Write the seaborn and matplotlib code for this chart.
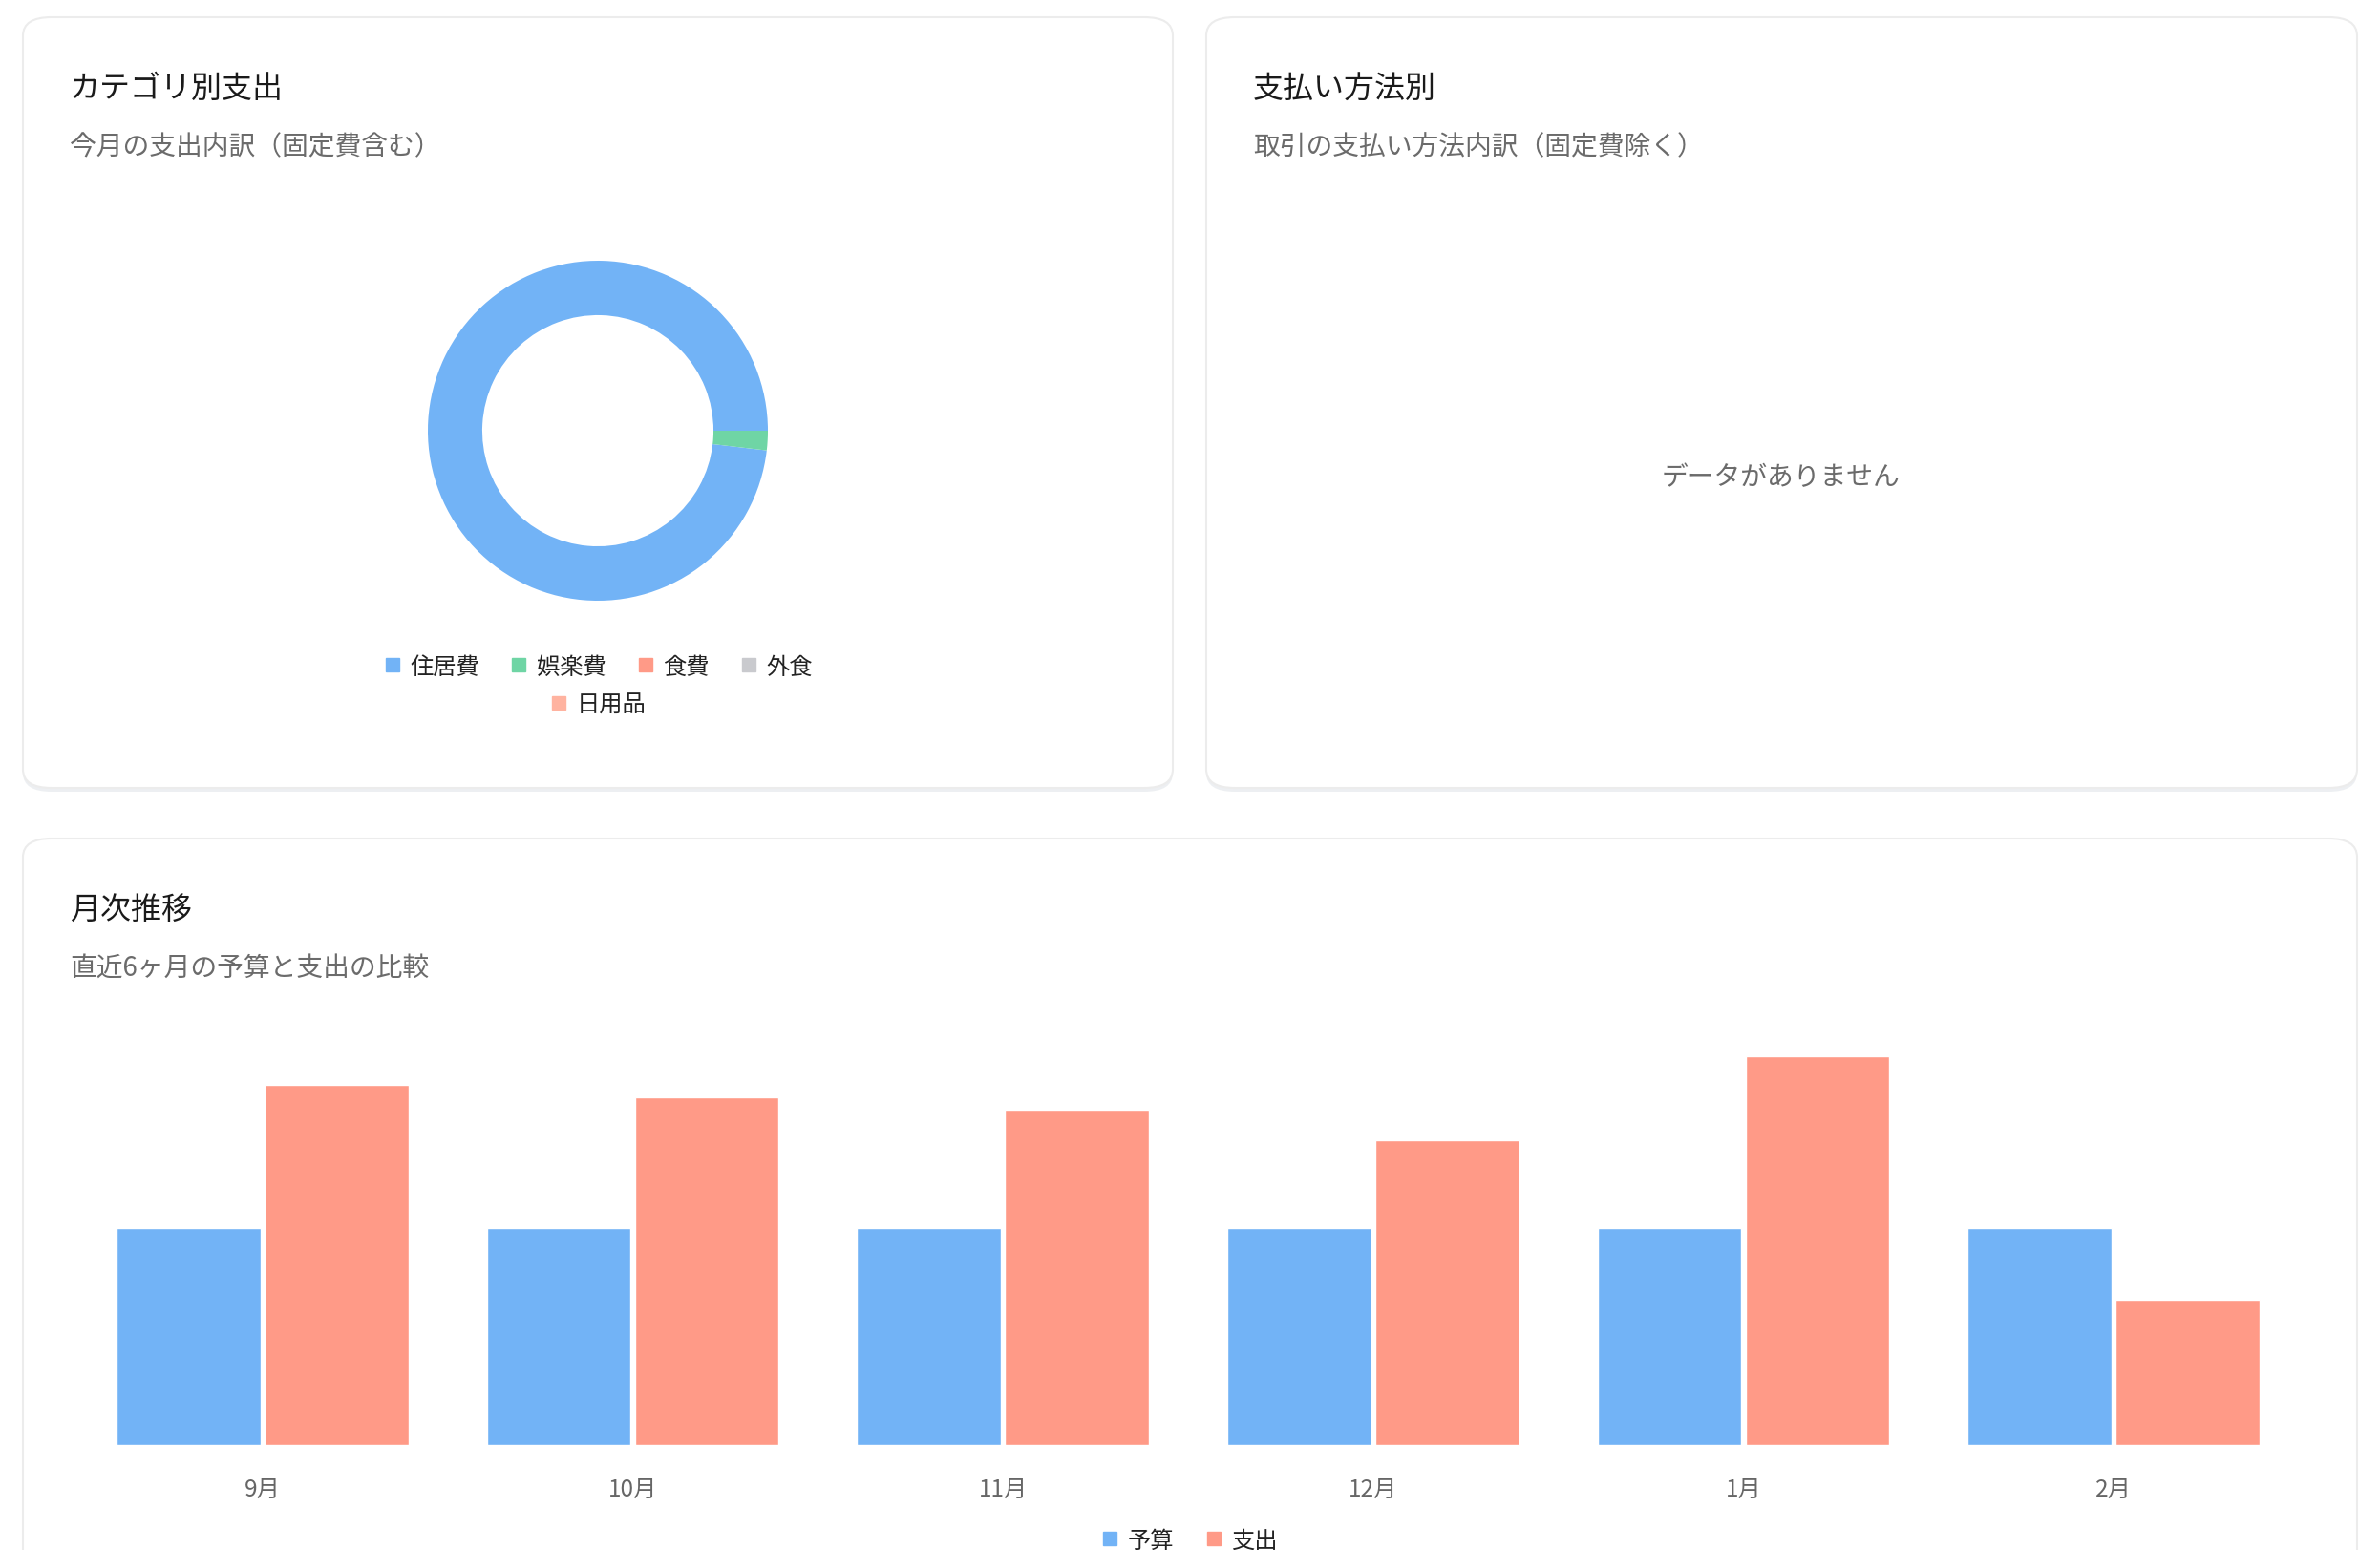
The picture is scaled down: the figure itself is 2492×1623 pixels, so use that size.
import matplotlib
matplotlib.use("Agg")
import matplotlib.pyplot as plt
from matplotlib.patches import FancyBboxPatch
from matplotlib.lines import Line2D
import seaborn as sns
import pandas as pd

# donut data (今月の支出内訳)
categories = ["住居費", "娯楽費", "食費", "外食", "日用品"]
category_values = [85000, 1600, 0, 0, 0]
category_colors = ["#72B3F6", "#6FD5A5", "#FF9A87", "#C9CACE", "#FFB3A0"]

# monthly bar data
months = ["9月", "10月", "11月", "12月", "1月", "2月"]
budget = [100000, 100000, 100000, 100000, 100000, 100000]
spending = [166000, 160300, 154600, 140500, 179300, 67000]
series_names = ["予算", "支出"]
series_colors = ["#72B3F6", "#FF9A87"]

W, H = 2492, 1624

sns.set_theme(style="white")
plt.rcParams["font.family"] = ["Noto Sans CJK JP", "DejaVu Sans"]

fig = plt.figure(figsize=(W / 100, H / 100), dpi=100)
fig.patch.set_facecolor("white")


def fx(x):
    return x / W


def fy(y):
    return 1 - y / H


def card(x0, y0, x1, y1):
    # soft shadow + rounded white card
    shadow = FancyBboxPatch((fx(x0), fy(y1 + 4)), fx(x1 - x0), (y1 - y0) / H,
                            boxstyle="round,pad=0,rounding_size=0.012",
                            transform=fig.transFigure, facecolor="#e9ecef",
                            edgecolor="none", alpha=0.8, zorder=0)
    box = FancyBboxPatch((fx(x0), fy(y1)), fx(x1 - x0), (y1 - y0) / H,
                         boxstyle="round,pad=0,rounding_size=0.012",
                         transform=fig.transFigure, facecolor="white",
                         edgecolor="#ececec", linewidth=1.5, zorder=1)
    fig.patches.append(shadow)
    fig.patches.append(box)


def header(x, y_title, y_sub, title, sub):
    fig.text(fx(x), fy(y_title), title, fontsize=23, color="#1a1a1a",
             va="center", ha="left", zorder=3)
    fig.text(fx(x), fy(y_sub), sub, fontsize=20, color="#6b6b6b",
             va="center", ha="left", zorder=3)


card(24, 19, 1228, 826)
card(1263, 19, 2468, 826)
card(24, 879, 2468, 1700)

header(73, 93, 154, "カテゴリ別支出", "今月の支出内訳（固定費含む）")
header(1312, 93, 154, "支払い方法別", "取引の支払い方法内訳（固定費除く）")
header(73, 953, 1014, "月次推移", "直近6ヶ月の予算と支出の比較")

# --- donut ---
cx, cy, r = 626, 452, 178
ax_d = fig.add_axes([fx(cx - r), fy(cy + r), 2 * r / W, 2 * r / H])
ax_d.pie(category_values, colors=category_colors, startangle=0,
         counterclock=True, wedgeprops=dict(width=0.32, edgecolor="none"))
ax_d.set_xlim(-1, 1)
ax_d.set_ylim(-1, 1)
ax_d.set_aspect("equal")
ax_d.axis("off")
ax_d.set_zorder(2)


def handles(names, colors):
    return [Line2D([], [], marker="s", linestyle="none", markersize=10,
                   markerfacecolor=c, markeredgecolor=c, label=n)
            for n, c in zip(names, colors)]


leg_kw = dict(frameon=False, fontsize=17.5, handletextpad=0.35,
              columnspacing=1.3, handlelength=0.8, labelcolor="#222222")
fig.legend(handles=handles(categories[:4], category_colors[:4]), ncol=4,
           loc="center", bbox_to_anchor=(fx(626), fy(699)), **leg_kw)
fig.legend(handles=handles(categories[4:], category_colors[4:]), ncol=1,
           loc="center", bbox_to_anchor=(fx(626), fy(739)), **leg_kw)

# --- empty payment card ---
fig.text(fx(1864), fy(500), "データがありません", fontsize=20, color="#6b6b6b",
         ha="center", va="center", zorder=3)

# --- monthly bars ---
df = pd.DataFrame({
    "month": months * 2,
    "series": [series_names[0]] * len(months) + [series_names[1]] * len(months),
    "value": budget + spending,
})
ax_b = fig.add_axes([fx(81), fy(1514), (2407 - 81) / W, (1514 - 1105) / H])
sns.barplot(data=df, x="month", y="value", hue="series", palette=series_colors,
            width=0.8, gap=0.03, saturation=1, ax=ax_b, legend=False)
ax_b.set_ylim(0, 180000)
ax_b.set_xlim(-0.5, len(months) - 0.5)
ax_b.set_xlabel("")
ax_b.set_ylabel("")
ax_b.set_yticks([])
ax_b.tick_params(axis="x", length=0, pad=24, labelsize=17.5, labelcolor="#666666")
for s in ax_b.spines.values():
    s.set_visible(False)
ax_b.set_facecolor("none")
ax_b.set_zorder(2)

fig.legend(handles=handles(series_names, series_colors), ncol=2, loc="center",
           bbox_to_anchor=(fx(1245), fy(1614)), **leg_kw)

fig.savefig("out.png", dpi=100, facecolor="white")
